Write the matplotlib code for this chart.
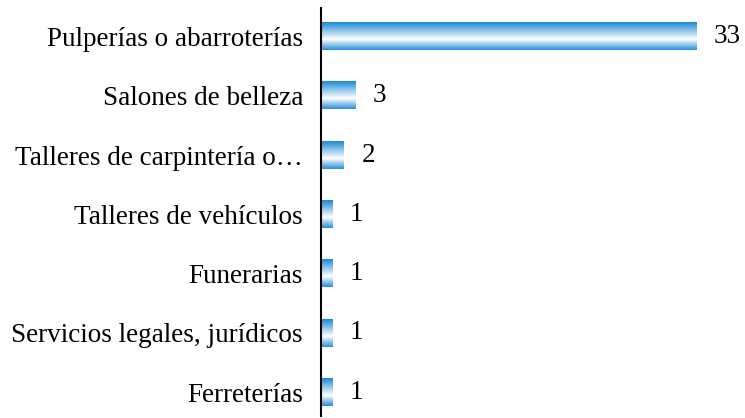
import numpy as np
import matplotlib.pyplot as plt
from matplotlib.colors import LinearSegmentedColormap

categories = [
    "Pulperías o abarroterías",
    "Salones de belleza",
    "Talleres de carpintería o…",
    "Talleres de vehículos",
    "Funerarias",
    "Servicios legales, jurídicos",
    "Ferreterías",
]
values = [33, 3, 2, 1, 1, 1, 1]

plt.rcParams["font.family"] = ["Liberation Serif", "DejaVu Serif"]

fig = plt.figure(figsize=(7.45, 4.18), dpi=100)
ax = fig.add_axes([321 / 745, 1 - 416 / 418, 1 - 321 / 745, 408 / 418])

# vertical gradient: blue at the edges, white a bit below the middle
cmap = LinearSegmentedColormap.from_list(
    "bar", [(0.0, "#1c8ad6"), (0.35, "#9fcdee"), (0.62, "#ffffff"), (1.0, "#2a8fd8")]
)
grad = np.linspace(0, 1, 64).reshape(-1, 1)

h = 0.46
for i, v in enumerate(values):
    ax.imshow(grad, cmap=cmap, aspect="auto", interpolation="bilinear",
              extent=(0, v, i + h / 2, i - h / 2), zorder=2)
    ax.text(v + 1.55, i, str(v), va="center", ha="left", fontsize=19.5)

ax.set_xlim(0, 37.3)
ax.set_ylim(6.4, -0.48)
ax.set_yticks(range(len(categories)))
ax.set_yticklabels(categories, fontsize=19.5)
ax.tick_params(axis="y", length=0, pad=13)
ax.set_xticks([])
for s in ["top", "right", "bottom"]:
    ax.spines[s].set_visible(False)
ax.spines["left"].set_linewidth(1.5)
ax.spines["left"].set_zorder(3)

fig.savefig("out.png", dpi=100)
